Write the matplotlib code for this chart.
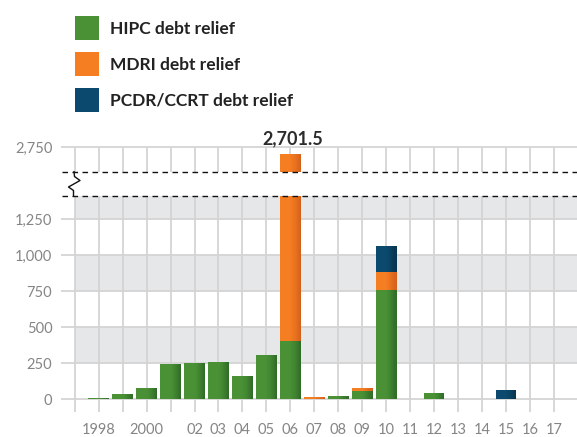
import numpy as np
import matplotlib
matplotlib.use('Agg')
import matplotlib.pyplot as plt
from matplotlib.patches import Rectangle
from matplotlib.colors import to_rgb
from matplotlib.lines import Line2D

plt.rcParams['font.family'] = ['Lato', 'DejaVu Sans']

# data (US$ millions)
years = list(range(1997, 2018))
hipc = [0, 10, 38, 79, 248, 255, 260, 164, 308, 405, 5, 25, 58, 759, 0, 44, 0, 0, 0, 0, 0]
mdri = [0, 0, 0, 0, 0, 0, 0, 0, 0, 2296.5, 14, 0, 23, 125, 0, 0, 0, 0, 0, 0, 0]
pcdr = [0, 0, 0, 0, 0, 0, 0, 0, 0, 0, 0, 0, 0, 183, 0, 0, 0, 0, 67, 0, 0]
xlabels = ['', '1998', '', '2000', '', '02', '03', '04', '05', '06', '07', '08', '09',
           '10', '11', '12', '13', '14', '15', '16', '17']
series = [('HIPC debt relief', hipc, '#4a9136', '#2f6c27'),
          ('MDRI debt relief', mdri, '#f57d22', '#d5601a'),
          ('PCDR/CCRT debt relief', pcdr, '#0b4a6e', '#07344e')]

W, H = 577, 437
fig = plt.figure(figsize=(W / 100, H / 100), dpi=100)
left, right = 62 / W, 1.0
ax = fig.add_axes([left, (H - 411.7) / H, right - left, 216 / H])
ax_top = fig.add_axes([left, (H - 171.7) / H, right - left, 24.4 / H])

grid_c = '#d4d4d4'
band_c = '#e6e7e9'
xlim = (1996.47, 2017.96)
bw = 0.86


def shaded_bars(a, x, heights, bottoms, c1, c2, n=10):
    # flat bar, then thin slices on the right half getting darker
    a.bar(x, heights, bw, bottom=bottoms, color=c1, zorder=3, linewidth=0)
    r1, r2 = np.array(to_rgb(c1)), np.array(to_rgb(c2))
    x = np.array(x, dtype=float)
    start = 0.5 * bw
    sw = (bw - start) / n
    for k in range(n):
        f = (k + 1) / n
        col = r1 + (r2 - r1) * f ** 1.3
        a.bar(x - bw / 2 + start + k * sw, heights, sw * 1.02, bottom=bottoms,
              align='edge', color=col, zorder=3.2, linewidth=0)


for a, ylim, ticks in [(ax, (-85, 1414), [0, 250, 500, 750, 1000, 1250]),
                       (ax_top, (2581, 2750), [2750])]:
    # grey bands
    for lo in range(250, 3000, 500):
        a.fill_between([1997, xlim[1]], lo, lo + 250, color=band_c, zorder=0, linewidth=0)
    for t in ticks:
        a.axhline(t, color=grid_c, lw=1.3, zorder=1, clip_on=False)
    for yr in years:
        a.axvline(yr, color=grid_c, lw=1.3, zorder=1)
    bottom = np.zeros(len(years))
    for name, vals, c1, c2 in series:
        shaded_bars(a, years, vals, bottom, c1, c2)
        bottom = bottom + np.array(vals)
    a.set_xlim(*xlim)
    a.set_ylim(*ylim)
    a.set_yticks(ticks)
    a.set_yticklabels([f'{t:,}' for t in ticks])
    a.tick_params(axis='y', length=0, pad=7, labelsize=10.5, labelcolor='#858585')
    for s in a.spines.values():
        s.set_visible(False)
    a.set_facecolor('none')

ax.set_xticks(years)
ax.set_xticklabels(xlabels)
ax.tick_params(axis='x', length=0, pad=8, labelsize=10.5, labelcolor='#858585')
ax_top.set_xticks([])

# total label for the tallest bar
totals = np.array(hipc) + np.array(mdri) + np.array(pcdr)
i = int(np.argmax(totals))
ax_top.annotate(f'{totals[i]:,.1f}', (years[i], totals[i]), xytext=(1.5, 5),
                textcoords='offset points', ha='center', va='bottom',
                fontsize=13, fontweight='bold', color='#2b2b2b', annotation_clip=False)

# axis break: dashed lines and zigzag
for yf in [(H - 171.7) / H, (H - 195.7) / H]:
    fig.add_artist(Line2D([left, 1], [yf, yf], color='#111111', lw=1.0,
                          linestyle=(0, (4, 3.2)), transform=fig.transFigure))
zx = np.array([74, 74.5, 80, 68.5, 73.5, 73.5]) / W
zy = (H - np.array([171.7, 176.5, 180.5, 187, 190.5, 195.7])) / H
fig.add_artist(Line2D(zx, zy, color='#111111', lw=1.0, transform=fig.transFigure))

# legend (square swatches with bold labels)
for k, (name, vals, c1, c2) in enumerate(series):
    top = 16 + 36 * k
    fig.add_artist(Rectangle((75 / W, (H - top - 24) / H), 24 / W, 24 / H,
                             facecolor=c1, edgecolor='none', transform=fig.transFigure))
    fig.text(110.5 / W, (H - top - 12.5) / H, name, fontsize=12.5, fontweight='bold',
             color='#222222', va='center', ha='left')

fig.savefig('out.png', dpi=100)
